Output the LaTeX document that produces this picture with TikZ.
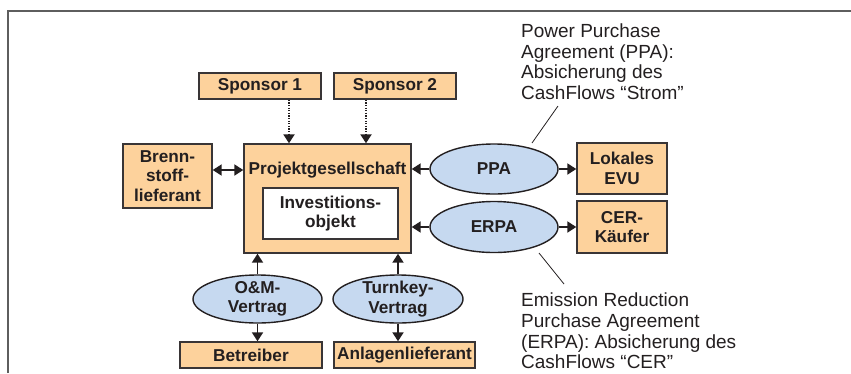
\documentclass[tikz,border=0pt]{standalone}
\usepackage{fontspec}
\setmainfont{Liberation Sans}
\usetikzlibrary{arrows.meta,shapes.geometric}
\definecolor{boxfill}{HTML}{FDD29C}
\definecolor{ellfill}{HTML}{C6D9F0}
\definecolor{ink}{HTML}{231F20}
\definecolor{framegray}{HTML}{5E5E5E}
\begin{document}
\begin{tikzpicture}[x=1pt,y=-1pt,
  lbltext/.style={font=\bfseries\fontsize{17.2}{19.5}\selectfont, text=ink, align=center},
  box/.style={draw=ink!90, line width=1.4pt, fill=boxfill, inner sep=0pt, lbltext},
  whitebox/.style={draw=ink!90, line width=1.4pt, fill=white, inner sep=0pt, lbltext},
  ell/.style={ellipse, draw=ink, line width=1.4pt, fill=ellfill, inner sep=0pt},
  tip/.tip={Triangle[length=9pt,width=11pt]},
  conn/.style={line width=1.9pt, draw=ink, -tip},
  dconn/.style={line width=1.9pt, draw=ink, tip-tip},
  dotconn/.style={line width=2pt, draw=ink, dash pattern=on 1.3pt off 1.3pt, -{Triangle[length=9pt,width=11pt]}},
  note/.style={font=\fontsize{19}{20.7}\selectfont, text=ink, align=left, inner sep=0pt, anchor=north west},
  noteline/.style={draw=ink, line width=0.8pt}]
\useasboundingbox (0,0) rectangle (851,373);
\draw[framegray, line width=2pt] (7.8,373) -- (7.8,10.8) -- (851,10.8);

% boxes
\node[box, minimum width=122pt, minimum height=26pt] (s1) at (260,86) {Sponsor 1};
\node[box, minimum width=122pt, minimum height=26pt] (s2) at (395,86) {Sponsor 2};
\node[box, minimum width=89pt, minimum height=64pt] (brenn) at (167.5,176) {Brenn-\\stoff-\\lieferant};
\node[box, minimum width=167pt, minimum height=109pt] (proj) at (327.5,198.5) {};
\node[lbltext, inner sep=0pt] (projt) at (327.5,170) {Projektgesellschaft};
\node[whitebox, minimum width=135pt, minimum height=51pt] (inv) at (330.5,213.5) {Investitions-\\objekt};
\node[box, minimum width=90pt, minimum height=51pt] (evu) at (622,168.5) {Lokales\\EVU};
\node[box, minimum width=90pt, minimum height=52pt] (cer) at (622,227) {CER-\\Käufer};
\node[box, minimum width=142pt, minimum height=26pt] (betr) at (251,355) {Betreiber};
\node[box, minimum width=141pt, minimum height=26pt] (anl) at (404.5,355) {Anlagenlieferant};

% ellipses
\node[ell, minimum width=128pt, minimum height=50pt, label={[lbltext]center:PPA}] (ppa) at (494,169) {};
\node[ell, minimum width=128pt, minimum height=51pt, label={[lbltext]center:ERPA}] (erpa) at (494,227) {};
\node[ell, minimum width=129pt, minimum height=48pt, label={[lbltext]center:O\&M-\\Vertrag}] (om) at (257.5,299) {};
\node[ell, minimum width=130pt, minimum height=48pt, label={[lbltext]center:Turnkey-\\Vertrag}] (tk) at (398,299) {};

% connectors
\draw[dotconn] ([xshift=29pt]s1.south) -- ([xshift=29pt]s1.south |- proj.north);
\draw[dotconn] ([xshift=-29pt]s2.south) -- ([xshift=-29pt]s2.south |- proj.north);
\draw[dconn] ([yshift=6pt]brenn.east) -- ([yshift=6pt]brenn.east -| proj.west);
\draw[conn] (ppa.west) -- (ppa.west -| proj.east);
\draw[conn] (ppa.east) -- (ppa.east -| evu.west);
\draw[conn] (erpa.west) -- (erpa.west -| proj.east);
\draw[conn] (erpa.east) -- (erpa.east -| cer.west);
\draw[conn] (om.north) -- (om.north |- proj.south);
\draw[conn] (om.south) -- (om.south |- betr.north);
\draw[conn] (tk.north) -- (tk.north |- proj.south);
\draw[conn] (tk.south) -- (tk.south |- anl.north);

% notes
\node[note] (ppanote) at (521,23.4) {Power Purchase\\Agreement (PPA):\\Absicherung des\\CashFlows “Strom”};
\node[note] (erpanote) at (521,292.7) {Emission Reduction\\Purchase Agreement\\(ERPA): Absicherung des\\CashFlows “CER”};
\coordinate (ppaA) at (558,106);
\coordinate (ppaB) at (532,143);
\coordinate (erpaA) at (539,253);
\coordinate (erpaB) at (564,284);
\draw[noteline] (ppaA) -- (ppaB);
\draw[noteline] (erpaA) -- (erpaB);
\end{tikzpicture}
\end{document}
